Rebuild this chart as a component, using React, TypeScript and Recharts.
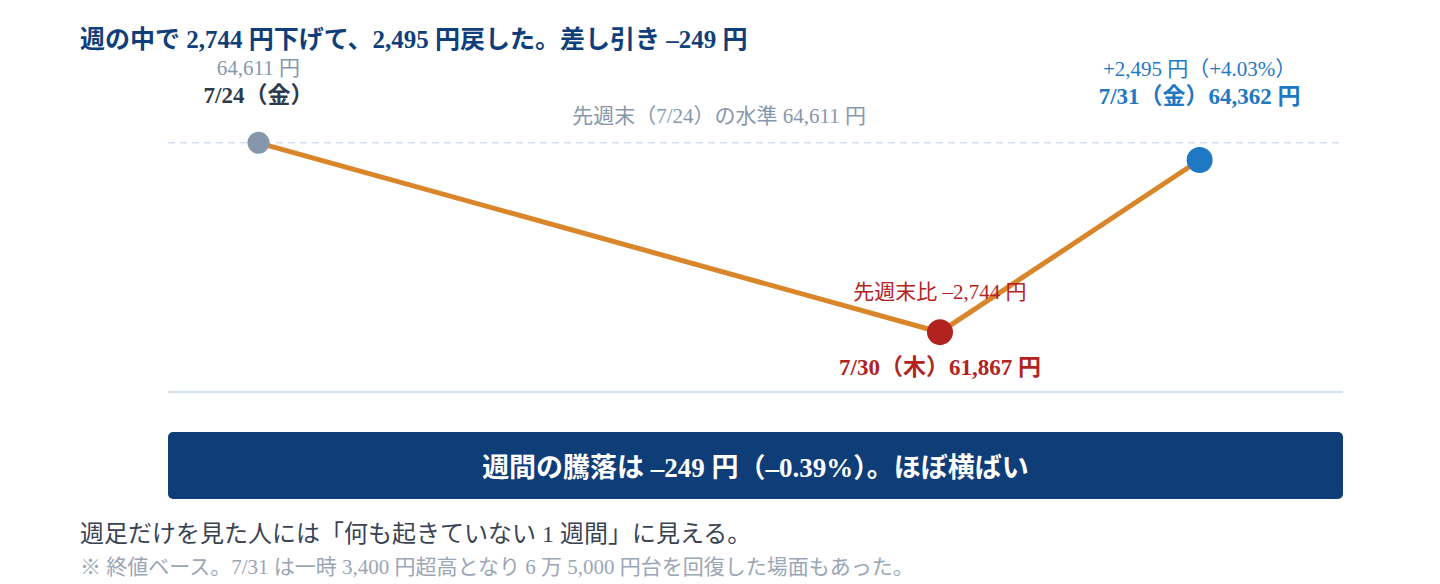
import { LineChart, Line, XAxis, YAxis, ReferenceLine } from "recharts";

const FONT = "'Liberation Serif', 'Noto Sans CJK JP', serif";

// 終値（週足の始点・安値・終点）
const days = ["7/24", "7/30", "7/31"];
const closes = [64611, 61867, 64362];
// 横位置（0〜1、図から読んだもの）
const xPos = [0.077, 0.657, 0.878];
const subLabels = ["64,611 円", "先週末比 –2,744 円", "+2,495 円（+4.03%）"];
const mainLabels = ["7/24（金）", "7/30（木）61,867 円", "7/31（金）64,362 円"];
const prevWeekClose = 64611;

const title = "週の中で 2,744 円下げて、2,495 円戻した。差し引き –249 円";
const bandText = "週間の騰落は –249 円（–0.39%）。ほぼ横ばい";
const note1 = "週足だけを見た人には「何も起きていない 1 週間」に見える。";
const note2 = "※ 終値ベース。7/31 は一時 3,400 円超高となり 6 万 5,000 円台を回復した場面もあった。";

const data = days.map((d, i) => ({ day: d, x: xPos[i], close: closes[i] }));

const dotColor = ["#8797ab", "#b2231f", "#1f78c4"];
const dotR = [11, 13, 13];
const mainColor = ["#2f3a4b", "#b2231f", "#1f78c4"];
const subColor = ["#8797ab", "#b2231f", "#1f78c4"];
// ラベルの縦オフセット（点からの距離）
const subDy = [-68, -33, -84];
const mainDy = [-40, 43, -56];
const subDx = [0, 0, 0];

function Dot(props: any) {
  const { cx, cy, index } = props;
  return (
    <g key={"d" + index}>
      <circle cx={cx} cy={cy} r={dotR[index]} fill={dotColor[index]} />
      <text x={cx + subDx[index]} y={cy + subDy[index]} textAnchor="middle" fontSize={21} fill={subColor[index]} fontFamily={FONT}>
        {subLabels[index]}
      </text>
      <text x={cx} y={cy + mainDy[index]} textAnchor="middle" fontSize={23} fontWeight="bold" fill={mainColor[index]} fontFamily={FONT}>
        {mainLabels[index]}
      </text>
    </g>
  );
}

export default function App() {
  return (
    <div style={{ position: "absolute", left: 0, top: 0, width: 1440, height: 584, background: "#fff", fontFamily: FONT }}>
      <div style={{ position: "absolute", left: 80, top: 25, fontSize: 25, lineHeight: "30px", fontWeight: "bold", color: "#0f3e7a", whiteSpace: "nowrap" }}>
        {title}
      </div>
      <div style={{ position: "absolute", left: 0, top: 0 }}>
        <LineChart width={1440} height={584} data={data} margin={{ top: 116, right: 97, bottom: 192, left: 168 }}>
          <XAxis dataKey="x" type="number" domain={[0, 1]} hide />
          <YAxis type="number" domain={[61000, 65000]} hide />
          <ReferenceLine
            y={prevWeekClose}
            stroke="#d3e1f0"
            strokeWidth={1.5}
            strokeDasharray="7 5"
            label={(p: any) => (
              <text x={p.viewBox.x + p.viewBox.width * 0.469} y={p.viewBox.y - 20} textAnchor="middle" fontSize={21} fill="#8797ab" fontFamily={FONT}>
                先週末（7/24）の水準 64,611 円
              </text>
            )}
          />
          <ReferenceLine y={61000} stroke="#d6e2ef" strokeWidth={2} />
          <Line
            dataKey="close"
            stroke="#d9862a"
            strokeWidth={5}
            dot={Dot}
            activeDot={false}
            isAnimationActive={false}
          />
        </LineChart>
      </div>
      <div
        style={{
          position: "absolute", left: 168, top: 432, width: 1175, height: 67, borderRadius: 5,
          background: "#0f3d78", color: "#fff", fontSize: 27, fontWeight: "bold",
          display: "flex", alignItems: "center", justifyContent: "center",
        }}
      >
        {bandText}
      </div>
      <div style={{ position: "absolute", left: 80, top: 520, fontSize: 24, lineHeight: "29px", color: "#3a4352", whiteSpace: "nowrap" }}>{note1}</div>
      <div style={{ position: "absolute", left: 80, top: 555, fontSize: 21, lineHeight: "25px", color: "#9aa6b6", whiteSpace: "nowrap" }}>{note2}</div>
    </div>
  );
}
